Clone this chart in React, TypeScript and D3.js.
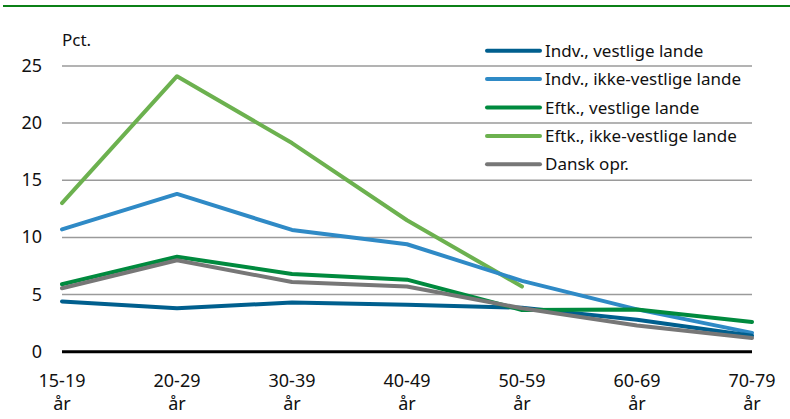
import React from "react";
import * as d3 from "d3";

const categories = ["15-19", "20-29", "30-39", "40-49", "50-59", "60-69", "70-79"];
const yTicks = [0, 5, 10, 15, 20, 25];

const seriesNames = [
  "Indv., vestlige lande",
  "Indv., ikke-vestlige lande",
  "Eftk., vestlige lande",
  "Eftk., ikke-vestlige lande",
  "Dansk opr.",
];
const indvVestlige = [4.4, 3.8, 4.3, 4.1, 3.85, 2.8, 1.4];
const indvIkkeVestlige = [10.7, 13.8, 10.65, 9.4, 6.2, 3.7, 1.65];
const eftkVestlige = [5.9, 8.3, 6.8, 6.3, 3.65, 3.7, 2.6];
const eftkIkkeVestlige = [13.0, 24.1, 18.25, 11.5, 5.7, null, null];
const danskOpr = [5.55, 8.0, 6.1, 5.7, 3.8, 2.3, 1.2];
const colors = ["#005f8e", "#2f8ac6", "#008a3e", "#6cb14f", "#777777"];

const seriesValues = [indvVestlige, indvIkkeVestlige, eftkVestlige, eftkIkkeVestlige, danskOpr];

export default function App() {
  const width = 790;
  const height = 419;
  const x = d3.scalePoint<string>().domain(categories).range([62, 752]).padding(0);
  const y = d3.scaleLinear().domain([0, 25]).range([351.7, 65.9]);
  const line = d3
    .line<number | null>()
    .defined((d) => d !== null)
    .x((_, i) => x(categories[i]) as number)
    .y((d) => y(d as number));
  const font = "'Noto Sans', sans-serif";
  const drawOrder = [3, 1, 0, 2, 4];
  return (
    <svg
      width={width}
      height={height}
      style={{ position: "absolute", left: 0, top: 0, background: "#fff" }}
      fontFamily={font}
    >
      <rect x={3} y={5} width={787} height={2} fill="#0b8016" />
      {yTicks.filter((t) => t > 0).map((t) => (
        <line key={t} x1={62} x2={752} y1={y(t)} y2={y(t)} stroke="#9a9a9a" strokeWidth={1.5} />
      ))}
      {yTicks.map((t) => (
        <text key={"l" + t} x={42} y={y(t) + 6} textAnchor="end" fontSize={18} fill="#111">
          {t}
        </text>
      ))}
      <text x={62} y={46} fontSize={17} fill="#111">Pct.</text>
      {drawOrder.map((si) => (
        <path
          key={si}
          d={line(seriesValues[si] as (number | null)[]) || ""}
          fill="none"
          stroke={colors[si]}
          strokeWidth={4}
          strokeLinejoin="round"
          strokeLinecap="round"
        />
      ))}
      <line x1={62} x2={752} y1={y(0)} y2={y(0)} stroke="#000" strokeWidth={3} />
      {categories.map((c) => (
        <g key={c}>
          <text x={x(c)} y={387} textAnchor="middle" fontSize={18} fill="#111">{c}</text>
          <text x={x(c)} y={410} textAnchor="middle" fontSize={18} fill="#111">år</text>
        </g>
      ))}
      {seriesNames.map((n, i) => {
        const ly = 50.7 + i * 28.4;
        return (
          <g key={n}>
            <line x1={487} x2={540} y1={ly} y2={ly} stroke={colors[i]} strokeWidth={4} strokeLinecap="round" />
            <text x={545} y={ly + 6} fontSize={17} fill="#111">{n}</text>
          </g>
        );
      })}
    </svg>
  );
}
